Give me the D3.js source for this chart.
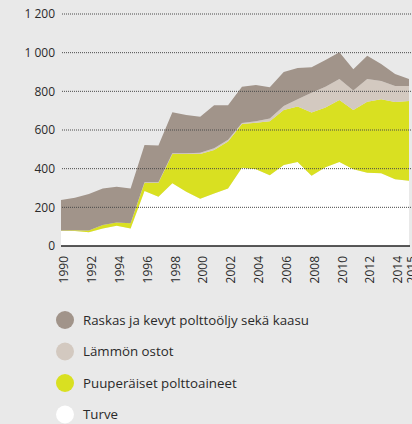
<!DOCTYPE html>
<html>
<head>
<meta charset="utf-8">
<script src="https://cdn.jsdelivr.net/npm/d3@7"></script>
<style>
  html, body { margin: 0; padding: 0; background: #e9e9e9; }
  svg { display: block; }
</style>
</head>
<body>
<div id="chart"></div>
<script>
// Data.
const years = [1990, 1991, 1992, 1993, 1994, 1995, 1996, 1997, 1998, 1999, 2000, 2001, 2002,
  2003, 2004, 2005, 2006, 2007, 2008, 2009, 2010, 2011, 2012, 2013, 2014, 2015];
const turve = [78, 78, 71, 90, 105, 90, 285, 255, 324, 281, 245, 272, 298,
  405, 397, 366, 419, 434, 364, 407, 434, 397, 379, 376, 345, 338];
const puuperaiset = [2, 4, 9, 18, 16, 28, 42, 72, 152, 195, 231, 225, 242,
  226, 241, 279, 285, 287, 326, 310, 321, 307, 367, 383, 400, 412];
const lammonOstot = [0, 0, 0, 0, 0, 0, 3, 3, 4, 4, 6, 8, 10,
  5, 7, 15, 20, 38, 103, 107, 109, 100, 118, 95, 83, 78];
const raskas = [158, 168, 189, 190, 186, 179, 192, 190, 212, 198, 187, 223, 178,
  188, 188, 161, 176, 162, 131, 138, 138, 110, 120, 87, 62, 36];
const yTicks = [0, 200, 400, 600, 800, 1000, 1200];
const xTicks = [1990, 1992, 1994, 1996, 1998, 2000, 2002, 2004, 2006, 2008, 2010, 2012, 2014, 2015];

const keys = ["turve", "puu", "lammon", "raskas"];
const labels = {
  raskas: "Raskas ja kevyt polttoöljy sekä kaasu",
  lammon: "Lämmön ostot",
  puu: "Puuperäiset polttoaineet",
  turve: "Turve",
};
const colors = {
  raskas: "#a1948a",
  lammon: "#d3c9c0",
  puu: "#d9e021",
  turve: "#ffffff",
};

const rows = years.map((year, i) => ({
  year,
  turve: turve[i],
  puu: puuperaiset[i],
  lammon: lammonOstot[i],
  raskas: raskas[i],
}));

const width = 412;
const height = 424;
const font = "'Open Sans', sans-serif";

const svg = d3.select("#chart")
  .append("svg")
  .attr("width", width)
  .attr("height", height);

svg.append("rect")
  .attr("width", width)
  .attr("height", height)
  .attr("fill", "#e9e9e9");

// Scales.
const x = d3.scaleLinear().domain([1990, 2015]).range([61, 409]);
const y = d3.scaleLinear().domain([0, 1200]).range([246, 14]);

// Stacked areas.
const series = d3.stack().keys(keys)(rows);
const area = d3.area()
  .x((d) => x(d.data.year))
  .y0((d) => y(d[0]))
  .y1((d) => y(d[1]))
  .curve(d3.curveLinear);

svg.append("g")
  .selectAll("path")
  .data(series)
  .join("path")
  .attr("fill", (d) => colors[d.key])
  .attr("d", area);

// Dotted grid lines on top of the areas.
svg.append("g")
  .selectAll("line")
  .data(yTicks.filter((t) => t > 0))
  .join("line")
  .attr("x1", 62)
  .attr("x2", 412)
  .attr("y1", (d) => y(d))
  .attr("y2", (d) => y(d))
  .attr("stroke", "#4a4a4a")
  .attr("stroke-width", 1)
  .attr("stroke-dasharray", "1,1");

// Baseline.
svg.append("line")
  .attr("x1", 61)
  .attr("x2", 410)
  .attr("y1", y(0))
  .attr("y2", y(0))
  .attr("stroke", "#222")
  .attr("stroke-width", 1.5);

// y-axis labels.
const fmt = (v) => (v >= 1000 ? d3.format(",")(v).replace(",", " ") : String(v));
svg.append("g")
  .selectAll("text")
  .data(yTicks)
  .join("text")
  .attr("x", 55)
  .attr("y", (d) => y(d))
  .attr("dy", "0.35em")
  .attr("text-anchor", "end")
  .attr("font-family", font)
  .attr("font-size", 12)
  .attr("fill", "#2a2a2a")
  .text(fmt);

// x-axis labels, rotated.
svg.append("g")
  .selectAll("text")
  .data(xTicks)
  .join("text")
  .attr("transform", (d) => `translate(${x(d) + 3}, 256) rotate(-90)`)
  .attr("dy", "0.35em")
  .attr("text-anchor", "end")
  .attr("font-family", font)
  .attr("font-size", 12)
  .attr("fill", "#2a2a2a")
  .text((d) => d);

// Legend.
const legendKeys = ["raskas", "lammon", "puu", "turve"];
const legend = svg.append("g")
  .selectAll("g")
  .data(legendKeys)
  .join("g")
  .attr("transform", (d, i) => `translate(65, ${320 + i * 31.5})`);

legend.append("circle")
  .attr("r", 9)
  .attr("fill", (d) => colors[d]);

legend.append("text")
  .attr("x", 18)
  .attr("dy", "0.35em")
  .attr("font-family", font)
  .attr("font-size", 13.3)
  .attr("fill", "#2a2a2a")
  .text((d) => labels[d]);
</script>
</body>
</html>
